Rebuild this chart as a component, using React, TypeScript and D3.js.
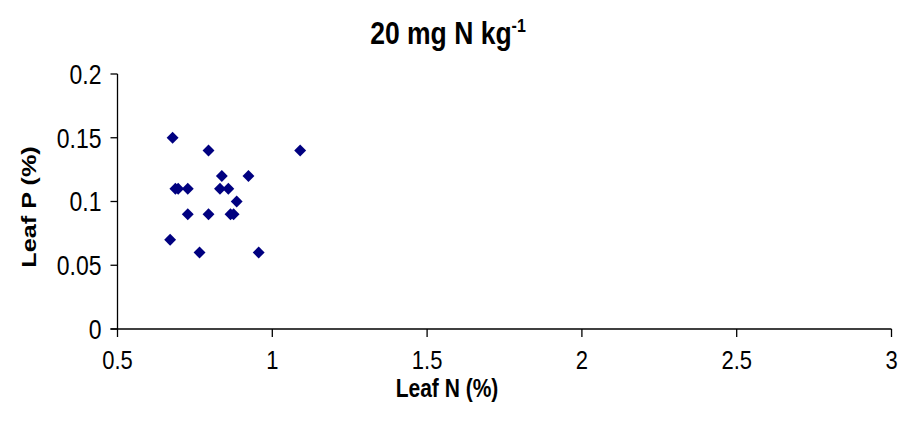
import React from "react";
import * as d3 from "d3";

const leafN = [0.678, 0.794, 1.09, 0.837, 0.923, 0.687, 0.696, 0.727, 0.831, 0.858, 0.885, 0.727, 0.794, 0.865, 0.875, 0.67, 0.765, 0.956];
const leafP = [0.15, 0.14, 0.14, 0.12, 0.12, 0.11, 0.11, 0.11, 0.11, 0.11, 0.1, 0.09, 0.09, 0.09, 0.09, 0.07, 0.06, 0.06];
const xTicks = [0.5, 1, 1.5, 2, 2.5, 3];
const yTicks = [0, 0.05, 0.1, 0.15, 0.2];

const W = 899;
const H = 427;
const S = 1.2;

export default function App() {
  const x = d3.scaleLinear().domain([0.5, 3]).range([117.5, 891.5]);
  const y = d3.scaleLinear().domain([0, 0.2]).range([329, 74]);
  const diamond = d3.symbol().type(d3.symbolDiamond2).size(90)();
  const font = "Arial, 'Liberation Sans', sans-serif";
  return (
    <svg width={W} height={H} style={{ position: "absolute", left: 0, top: 0, background: "#fff" }} fontFamily={font}>
      <g transform={`translate(448,44) scale(1,${S})`}>
        <text x={0} y={0} textAnchor="middle" fontSize={26.5} fontWeight="bold">
          20 mg N kg<tspan dy={-10} fontSize={16}>-1</tspan>
        </text>
      </g>
      <line x1={x(0.5)} x2={x(0.5)} y1={y(0.2)} y2={y(0)} stroke="#000" strokeWidth={1.3} />
      <line x1={x(0.5) - 7} x2={x(3)} y1={y(0)} y2={y(0)} stroke="#000" strokeWidth={1.3} />
      {yTicks.map((t) => (
        <g key={"y" + t}>
          <line x1={x(0.5) - 7} x2={x(0.5)} y1={y(t)} y2={y(t)} stroke="#000" strokeWidth={1.3} />
          <g transform={`translate(${x(0.5) - 16},${y(t)}) scale(1,${S})`}>
            <text x={0} y={0} dy="0.36em" textAnchor="end" fontSize={23}>{String(t)}</text>
          </g>
        </g>
      ))}
      {xTicks.map((t) => (
        <g key={"x" + t}>
          <line x1={x(t)} x2={x(t)} y1={y(0)} y2={y(0) + 8} stroke="#000" strokeWidth={1.3} />
          <g transform={`translate(${x(t)},${y(0) + 40}) scale(1,${S})`}>
            <text x={0} y={0} textAnchor="middle" fontSize={22}>{String(t)}</text>
          </g>
        </g>
      ))}
      <g transform={`translate(447,397) scale(1,${S})`}>
        <text x={0} y={0} textAnchor="middle" fontSize={21} fontWeight="bold">Leaf N (%)</text>
      </g>
      <g transform={`translate(36,207) rotate(-90) scale(${S},1)`}>
        <text x={0} y={0} textAnchor="middle" fontSize={21} fontWeight="bold">Leaf P (%)</text>
      </g>
      {leafN.map((n, i) => (
        <path key={i} d={diamond} transform={`translate(${x(n)},${y(leafP[i])})`} fill="#000080" />
      ))}
    </svg>
  );
}
